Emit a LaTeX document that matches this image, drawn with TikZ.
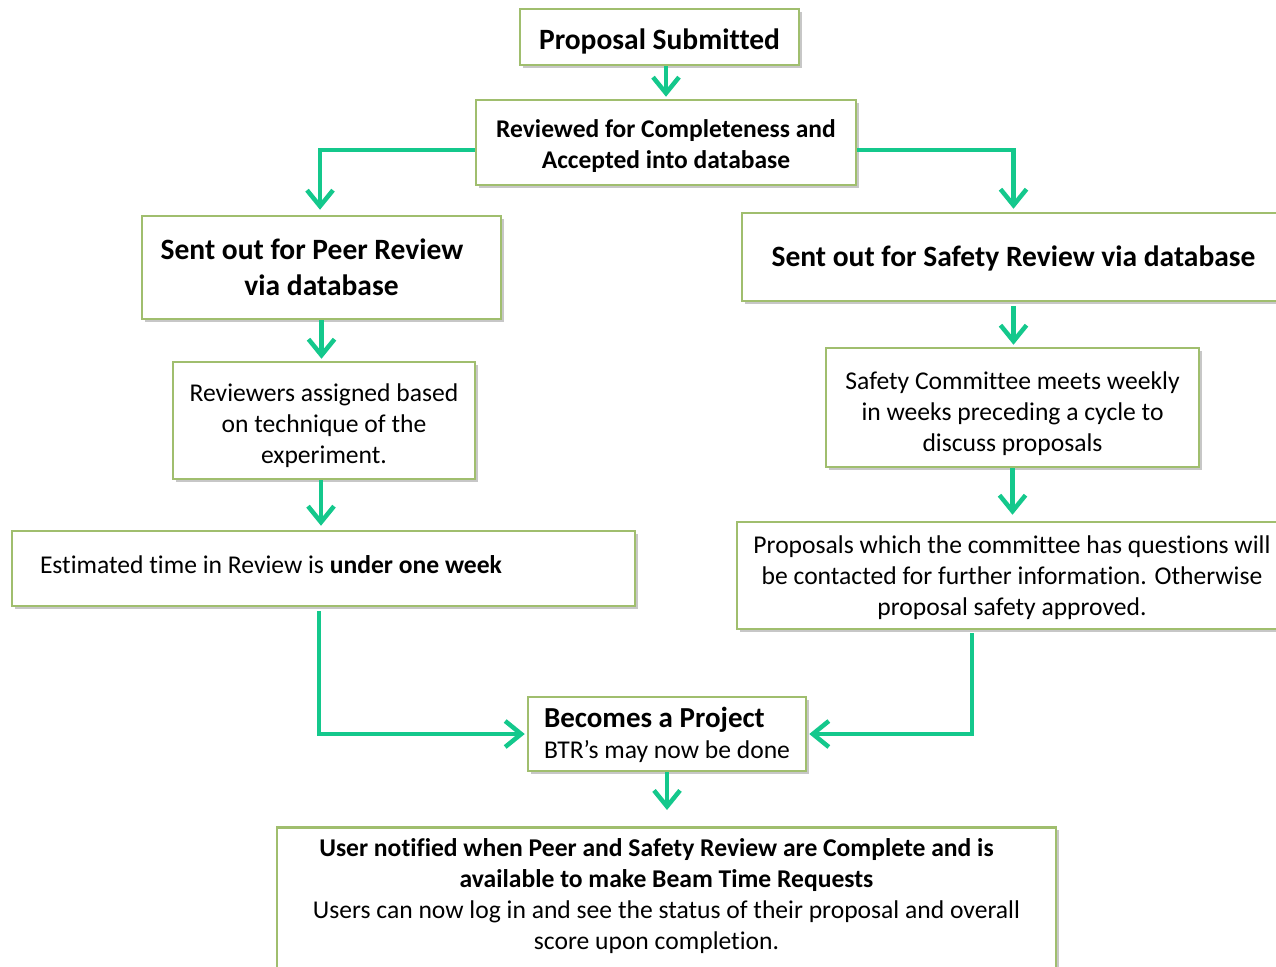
\documentclass[tikz,border=0pt]{standalone}
\usepackage{fontspec}
\setmainfont{Carlito}[Ligatures=NoCommon]
\usetikzlibrary{arrows.meta,shadows,calc}
\definecolor{boxgreen}{RGB}{160,190,110}
\definecolor{arrteal}{RGB}{20,200,140}
\tikzset{
  box/.style={draw=boxgreen, line width=2.5pt, fill=white, inner sep=0pt, align=center,
    drop shadow={shadow xshift=3pt, shadow yshift=-3pt, fill=black, opacity=0.22}},
  big/.style={font=\fontsize{29.5}{36}\selectfont\bfseries, align=center, inner sep=0pt},
  mid/.style={font=\fontsize{25.5}{31}\selectfont\bfseries, align=center, inner sep=0pt},
  reg/.style={font=\fontsize{25.6}{31}\selectfont, align=center, inner sep=0pt},
  arr/.style={draw=arrteal, line width=4.5pt, -{Straight Barb[length=16pt,width=26pt]}, shorten >=2pt}
}
\begin{document}
\begin{tikzpicture}[x=1pt,y=-1pt]
\useasboundingbox (0,0) rectangle (1276,966);
\clip (0,0) rectangle (1276,966);
\node[box,minimum width=279,minimum height=56,
  label={[big,yshift=-4pt]center:{Proposal Submitted}}] (ps) at (659.5,37) {};
\node[box,minimum width=380,minimum height=85,
  label={[mid,yshift=-4pt]center:{Reviewed for Completeness and\\Accepted into database}}] (rev) at (666,142.5) {};
\node[box,minimum width=359,minimum height=103,
  label={[big]center:{Sent out for Peer Review\hspace*{19pt}\\via database}}] (peer) at (321.5,267.5) {};
\node[box,minimum width=543,minimum height=88,
  label={[big,yshift=-1pt]center:{Sent out for Safety Review via database}}] (saf) at (1013.5,257) {};
\node[box,minimum width=302,minimum height=117,
  label={[reg,yshift=-5pt]center:{Reviewers assigned based\\on technique of the\\experiment.}}] (rvw) at (324,420.5) {};
\node[box,minimum width=373,minimum height=119,
  label={[reg,yshift=-6pt]center:{Safety Committee meets weekly\\in weeks preceding a cycle to\\discuss proposals}}] (com) at (1012.5,407.5) {};
\node[box,minimum width=623,minimum height=75,
  label={[reg,text width=567,align=flush left,yshift=4pt]center:{Estimated time in Review is \textbf{under one week}}}] (est) at (323.5,568.5) {};
\node[box,minimum width=550,minimum height=107,
  label={[reg,yshift=-2pt]center:{Proposals which the committee has questions will\\be contacted for further information. Otherwise\\proposal safety approved.}}] (prop) at (1012,575.5) {};
\node[box,minimum width=278,minimum height=74,
  label={[reg,text width=246,align=flush left,yshift=-1pt]center:{{\fontsize{29}{32}\selectfont\bfseries Becomes a Project}\\BTR’s may now be done}}] (bec) at (667,734) {};
\node[box,minimum width=779,minimum height=150,anchor=north,
  label={[reg,anchor=north,yshift=-12pt]north:{\textbf{User notified when Peer and Safety Review are Complete and is}\hspace*{20pt}\\\textbf{available to make Beam Time Requests}\hspace*{20pt}\\Users can now log in and see the status of their proposal and overall\hspace*{20pt}\\score upon completion.\hspace*{20pt}}}] (usr) at (666.5,826) {};
\draw[arr] (ps.south -| rev.north) -- (rev.north);
\draw[arr] ($(rev.west)+(0,7.5)$) -| ($(peer.north)+(-1.5,-3)$);
\draw[arr] ($(rev.east)+(0,7.5)$) -| ($(saf.north)+(0,-1)$);
\draw[arr] (peer.south) -- (peer.south |- rvw.north);
\draw[arr] ($(rvw.south)+(-3,0)$) -- ($(rvw.south |- est.north)+(-3,-2)$);
\draw[arr] ($(saf.south)+(0,4)$) -- (saf.south |- com.north);
\draw[arr] (com.south) -- ($(com.south |- prop.north)+(0,-4)$);
\draw[arr] ($(est.south)+(-4.5,4)$) |- (bec.west);
\draw[arr] ($(prop.south)+(-40,3)$) |- (bec.east);
\draw[arr] (bec.south) -- ($(bec.south |- usr.north)+(0,-14)$);
\end{tikzpicture}
\end{document}
